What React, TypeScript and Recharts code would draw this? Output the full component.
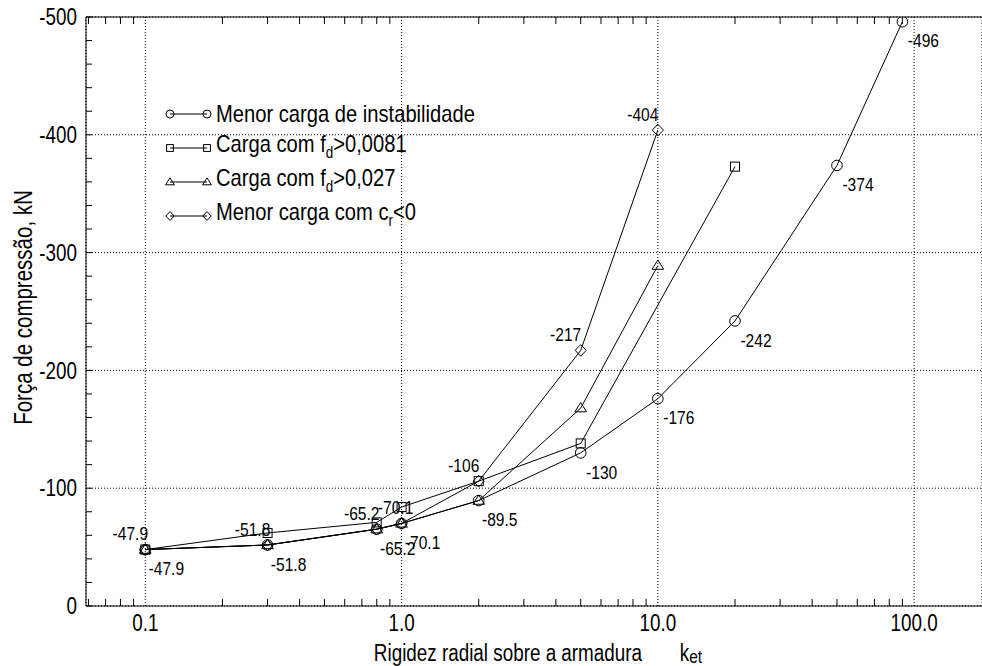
import React from "react";
import { LineChart, Line, XAxis, YAxis, CartesianGrid, ReferenceDot, Legend } from "recharts";

const FONT = "'Liberation Sans', Arial, sans-serif";
const NARROW = 0.82; // the reference uses a condensed Helvetica

// k_et values and compression loads (kN) per criterion
const kInstab = [0.1, 0.3, 0.8, 1, 2, 5, 10, 20, 50, 90];
const loadInstab = [-47.9, -51.8, -65.2, -70.1, -89.5, -130, -176, -242, -374, -496];
const kFd0081 = [0.1, 0.3, 0.8, 1, 2, 5, 20];
const loadFd0081 = [-47.9, -62, -71, -84, -106, -138, -373];
const kFd027 = [0.1, 0.3, 0.8, 1, 2, 5, 10];
const loadFd027 = [-47.9, -51.8, -65.2, -70.1, -89.5, -168, -289];
const kCr = [0.1, 0.3, 0.8, 1, 2, 5, 10];
const loadCr = [-47.9, -51.8, -65.2, -70.1, -106, -217, -404];

const xTicks = [0.1, 1, 10, 100];
const xMinorTicks = [
  0.06, 0.07, 0.08, 0.09, 0.2, 0.3, 0.4, 0.5, 0.6, 0.7, 0.8, 0.9,
  2, 3, 4, 5, 6, 7, 8, 9, 20, 30, 40, 50, 60, 70, 80, 90,
];
const yTicks = [0, -100, -200, -300, -400, -500];
const yMinorTicks = [
  0, -20, -40, -60, -80, -100, -120, -140, -160, -180, -200, -220, -240, -260,
  -280, -300, -320, -340, -360, -380, -400, -420, -440, -460, -480, -500,
];

// value annotations (k, load)
const notesAbove = [[0.1, -47.9], [0.3, -51.8], [0.8, -65.2], [1, -70.1], [2, -106], [5, -217], [10, -404]];
const notesBelow = [
  [0.1, -47.9], [0.3, -51.8], [0.8, -65.2], [1, -70.1], [2, -89.5],
  [5, -130], [10, -176], [20, -242], [50, -374], [90, -496],
];

const toPoints = (ks: number[], loads: number[]) => ks.map((x, i) => ({ x, y: loads[i] }));

const series = [
  { name: "instab", shape: "circle", data: toPoints(kInstab, loadInstab) },
  { name: "fd0081", shape: "square", data: toPoints(kFd0081, loadFd0081) },
  { name: "fd027", shape: "triangle", data: toPoints(kFd027, loadFd027) },
  { name: "cr", shape: "diamond", data: toPoints(kCr, loadCr) },
];

const legendLabels = [
  <>Menor carga de instabilidade</>,
  <>Carga com f<sub style={{ fontSize: 16 }}>d</sub>&gt;0,0081</>,
  <>Carga com f<sub style={{ fontSize: 16 }}>d</sub>&gt;0,027</>,
  <>Menor carga com c<sub style={{ fontSize: 16 }}>r</sub>&lt;0</>,
];

function Marker({ shape, cx, cy, s }: { shape: string; cx: number; cy: number; s: number }) {
  const common = { fill: "none", stroke: "#000", strokeWidth: 1 };
  if (shape === "circle") return <circle cx={cx} cy={cy} r={s} {...common} />;
  if (shape === "square")
    return <rect x={cx - s * 0.85} y={cy - s * 0.85} width={s * 1.7} height={s * 1.7} {...common} />;
  if (shape === "triangle")
    return (
      <path
        d={`M${cx},${cy - s * 1.05}L${cx + s * 1.1},${cy + s * 0.7}L${cx - s * 1.1},${cy + s * 0.7}Z`}
        {...common}
      />
    );
  return <path d={`M${cx},${cy - s * 1.1}L${cx + s * 1.05},${cy}L${cx},${cy + s * 1.1}L${cx - s * 1.05},${cy}Z`} {...common} />;
}

// condensed svg text
function CText({ x, y, size, anchor = "middle", dy, children }: any) {
  return (
    <text
      transform={`translate(${x},${y}) scale(${NARROW},1)`}
      textAnchor={anchor}
      dy={dy}
      fontFamily={FONT}
      fontSize={size}
      fill="#000"
    >
      {children}
    </text>
  );
}

const noTick = () => <g />;

const XTick = (p: any) => (
  <CText x={p.x} y={p.y} size={23} dy="0.71em">
    {Number(p.payload.value).toFixed(1)}
  </CText>
);

const YTick = (p: any) => (
  <CText x={p.x} y={p.y} size={23} anchor="end" dy="0.355em">
    {String(p.payload.value)}
  </CText>
);

function renderLegend() {
  return (
    <div style={{ fontFamily: FONT, fontSize: 24, color: "#000" }}>
      {series.map((s, i) => (
        <div key={s.name} style={{ display: "flex", alignItems: "center", height: 34 }}>
          <svg width={50} height={20} style={{ flexShrink: 0 }}>
            <line x1={8} y1={10} x2={45} y2={10} stroke="#000" />
            <Marker shape={s.shape} cx={8} cy={10} s={4} />
            <Marker shape={s.shape} cx={45} cy={10} s={4} />
          </svg>
          <span
            style={{
              marginLeft: 4,
              whiteSpace: "nowrap",
              lineHeight: "24px",
              display: "inline-block",
              transform: "scaleX(0.84)",
              transformOrigin: "left center",
            }}
          >
            {legendLabels[i]}
          </span>
        </div>
      ))}
    </div>
  );
}

const noteLabel = (text: string, dx: number, dy: number) => (props: any) => {
  const { viewBox } = props;
  return (
    <CText x={viewBox.x + dx} y={viewBox.y + dy} size={19} dy="0.35em">
      {text}
    </CText>
  );
};

const renderXTitle = (props: any) => {
  const { viewBox } = props;
  const cx = viewBox.x + viewBox.width / 2 + 4;
  return (
    <CText x={cx} y={viewBox.y + 55} size={23}>
      Rigidez radial sobre a armadura
      <tspan dx={46}>k</tspan>
      <tspan fontSize={19} dy={2}>et</tspan>
    </CText>
  );
};

const renderYTitle = (props: any) => {
  const { viewBox } = props;
  const cy = viewBox.y + viewBox.height / 2 - 4;
  return (
    <text
      transform={`translate(31.5,${cy}) rotate(-90) scale(${NARROW},1)`}
      textAnchor="middle"
      fontFamily={FONT}
      fontSize={25}
      fill="#000"
    >
      Força de compressão, kN
    </text>
  );
};

// minor tick axes: mirrored inward, near-zero thickness so they do not shift the plot
const minorX = {
  dataKey: "x",
  type: "number" as const,
  scale: "log" as const,
  domain: [0.0587, 184],
  allowDataOverflow: true,
  ticks: xMinorTicks,
  interval: 0,
  mirror: true,
  height: 0.01,
  tick: noTick,
  tickSize: 7,
  tickLine: { stroke: "#000" },
};

export default function App() {
  return (
    <div style={{ position: "absolute", left: 0, top: 0, width: 982, height: 666, background: "#fff" }}>
      <LineChart width={982} height={666} margin={{ top: 17, right: 0, bottom: 0, left: 0 }}>
        <XAxis xAxisId="xb" {...minorX} axisLine={false} />
        <XAxis xAxisId="xt" orientation="top" {...minorX} axisLine={{ stroke: "#000" }} />
        <XAxis
          xAxisId="x"
          dataKey="x"
          type="number"
          scale="log"
          domain={[0.0587, 184]}
          allowDataOverflow
          ticks={xTicks}
          interval={0}
          height={60}
          tickSize={0}
          tickMargin={9}
          tickLine={false}
          axisLine={{ stroke: "#000" }}
          tick={XTick}
          label={renderXTitle}
        />
        <YAxis
          yAxisId="yminor"
          type="number"
          domain={[-500, 0]}
          reversed
          allowDataOverflow
          ticks={yMinorTicks}
          interval={0}
          mirror
          width={0.01}
          tick={noTick}
          tickSize={6}
          axisLine={false}
          tickLine={{ stroke: "#000" }}
        />
        <YAxis
          yAxisId="y"
          type="number"
          domain={[-500, 0]}
          reversed
          allowDataOverflow
          ticks={yTicks}
          interval={0}
          width={86}
          tickSize={0}
          tickMargin={9}
          tickLine={false}
          axisLine={{ stroke: "#000" }}
          tick={YTick}
          label={renderYTitle}
        />
        <CartesianGrid xAxisId="x" yAxisId="y" stroke="#000" strokeDasharray="1 2" />
        {series.map((s) => (
          <Line
            key={s.name}
            xAxisId="x"
            yAxisId="y"
            data={s.data}
            dataKey="y"
            type="linear"
            stroke="#000"
            strokeWidth={1}
            isAnimationActive={false}
            activeDot={false}
            dot={(p: any) => (
              <Marker key={`${s.name}-${p.index}`} shape={s.shape} cx={p.cx} cy={p.cy} s={5.3} />
            )}
          />
        ))}
        {notesAbove.map(([x, y], i) => (
          <ReferenceDot
            key={`a${i}`}
            xAxisId="x"
            yAxisId="y"
            x={x}
            y={y}
            r={0}
            fill="none"
            stroke="none"
            label={noteLabel(String(y), x === 1 ? -6 : -15, -16)}
          />
        ))}
        {notesBelow.map(([x, y], i) => (
          <ReferenceDot
            key={`b${i}`}
            xAxisId="x"
            yAxisId="y"
            x={x}
            y={y}
            r={0}
            fill="none"
            stroke="none"
            label={noteLabel(String(y), 21, 19)}
          />
        ))}
        <Legend
          layout="vertical"
          align="center"
          verticalAlign="middle"
          content={renderLegend}
          wrapperStyle={{ left: 162, top: 97, width: 400 }}
        />
      </LineChart>
    </div>
  );
}
